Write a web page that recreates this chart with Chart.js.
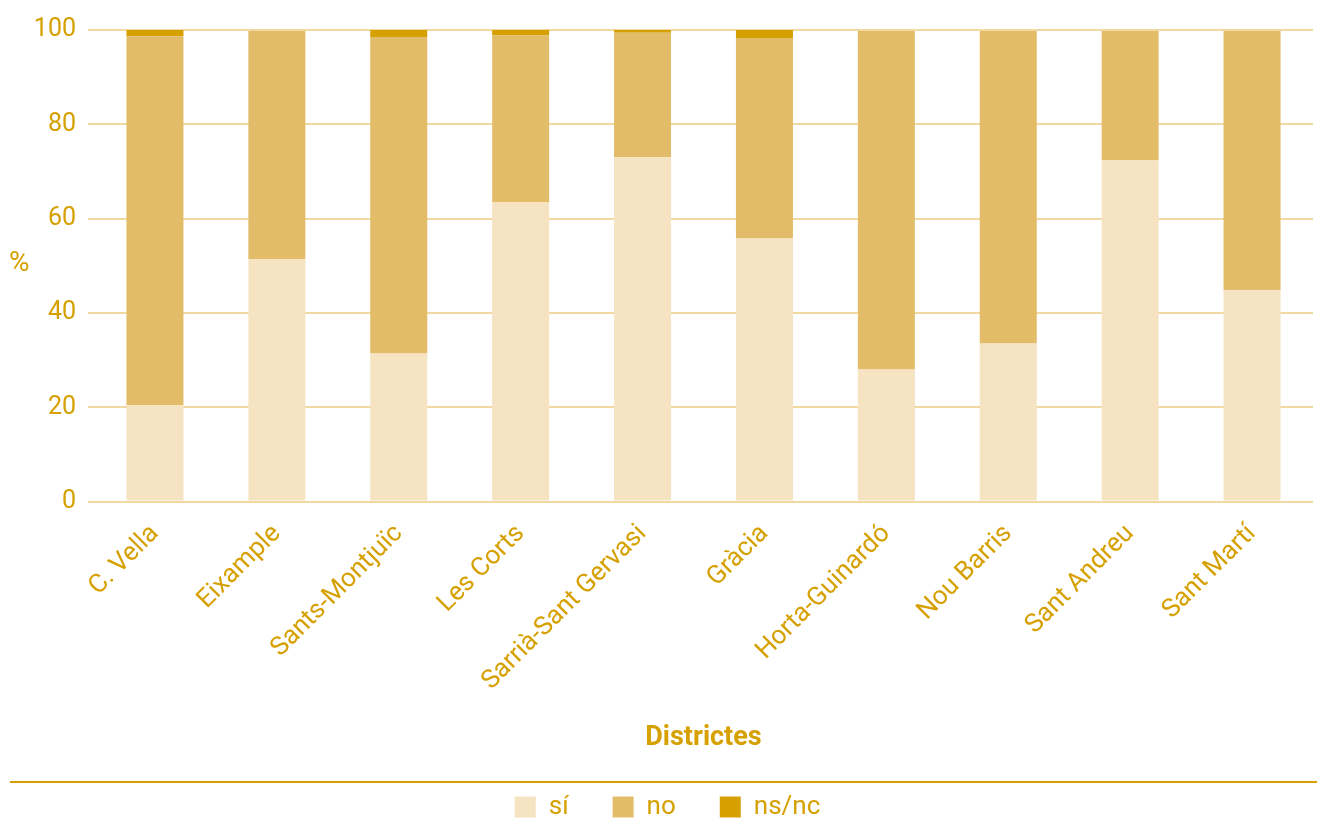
<!DOCTYPE html>
<html>
<head>
<meta charset="utf-8">
<script src="https://cdn.jsdelivr.net/npm/chart.js@4"></script>
<style>
  body { margin: 0; background: #fff; }
  #wrap { width: 1317px; height: 830px; position: relative; }
</style>
</head>
<body>
<div id="wrap"><canvas id="chart"></canvas></div>
<script>
const districts = ['C. Vella', 'Eixample', 'Sants-Montjuïc', 'Les Corts', 'Sarrià-Sant Gervasi',
                   'Gràcia', 'Horta-Guinardó', 'Nou Barris', 'Sant Andreu', 'Sant Martí'];
const si   = [20.4, 51.4, 31.4, 63.5, 73.0, 55.8, 28.0, 33.5, 72.4, 44.8];
const no   = [78.3, 48.4, 67.1, 35.4, 26.4, 42.5, 71.8, 66.3, 27.4, 55.0];
const nsnc = [1.3, 0.0, 1.5, 1.1, 0.6, 1.7, 0.0, 0.0, 0.0, 0.0];

const gold = '#d6a000';
const fontFamily = 'Roboto, "Liberation Sans", sans-serif';
const legendPad = 44;

// "%" label on the left, the rule above the legend, legend nudged right
const extras = {
    id: 'extras',
    afterLayout(chart) {
        chart.legend.left += 11;
        chart.legend.right += 11;
    },
    afterDraw(chart) {
        const ctx = chart.ctx;
        ctx.save();
        ctx.fillStyle = gold;
        ctx.font = '28px ' + fontFamily;
        ctx.textBaseline = 'middle';
        ctx.textAlign = 'left';
        ctx.fillText('%', 9, 264);
        const y = chart.legend.top + legendPad - 12;
        ctx.strokeStyle = gold;
        ctx.lineWidth = 2;
        ctx.beginPath();
        ctx.moveTo(10, y);
        ctx.lineTo(1317, y);
        ctx.stroke();
        ctx.restore();
    }
};

const ctx = document.getElementById('chart').getContext('2d');

new Chart(ctx, {
    type: 'bar',
    data: {
        labels: districts,
        datasets: [
            { label: 'sí', data: si, backgroundColor: '#f5e3c1' },
            { label: 'no', data: no, backgroundColor: '#e3bc69' },
            { label: 'ns/nc', data: nsnc, backgroundColor: gold }
        ]
    },
    options: {
        responsive: true,
        maintainAspectRatio: false,
        animation: false,
        layout: {
            padding: { top: 30, right: 4, left: 0, bottom: 0 }
        },
        datasets: {
            bar: {
                categoryPercentage: 1,
                barPercentage: 0.4676,
                borderWidth: 0
            }
        },
        scales: {
            x: {
                stacked: true,
                grid: { display: false },
                border: { display: false },
                ticks: {
                    color: gold,
                    font: { family: fontFamily, size: 26 },
                    minRotation: 45,
                    maxRotation: 45,
                    autoSkip: false,
                    padding: 9
                },
                title: {
                    display: true,
                    text: 'Districtes',
                    color: gold,
                    font: { family: fontFamily, size: 27, weight: 'bold' },
                    padding: { top: 16, bottom: -4 }
                }
            },
            y: {
                stacked: true,
                min: 0,
                max: 100,
                afterFit(scale) { scale.width = 94; },
                grid: { color: '#f2d9a2', lineWidth: 2, drawTicks: true, tickLength: 6 },
                border: { display: false },
                ticks: {
                    stepSize: 20,
                    color: gold,
                    padding: 12,
                    font: { family: fontFamily, size: 25 }
                }
            }
        },
        plugins: {
            legend: {
                position: 'bottom',
                labels: {
                    color: gold,
                    boxWidth: 21,
                    boxHeight: 21,
                    padding: legendPad,
                    font: { family: fontFamily, size: 26 }
                }
            },
            tooltip: { enabled: false }
        }
    },
    plugins: [extras]
});
</script>
</body>
</html>
